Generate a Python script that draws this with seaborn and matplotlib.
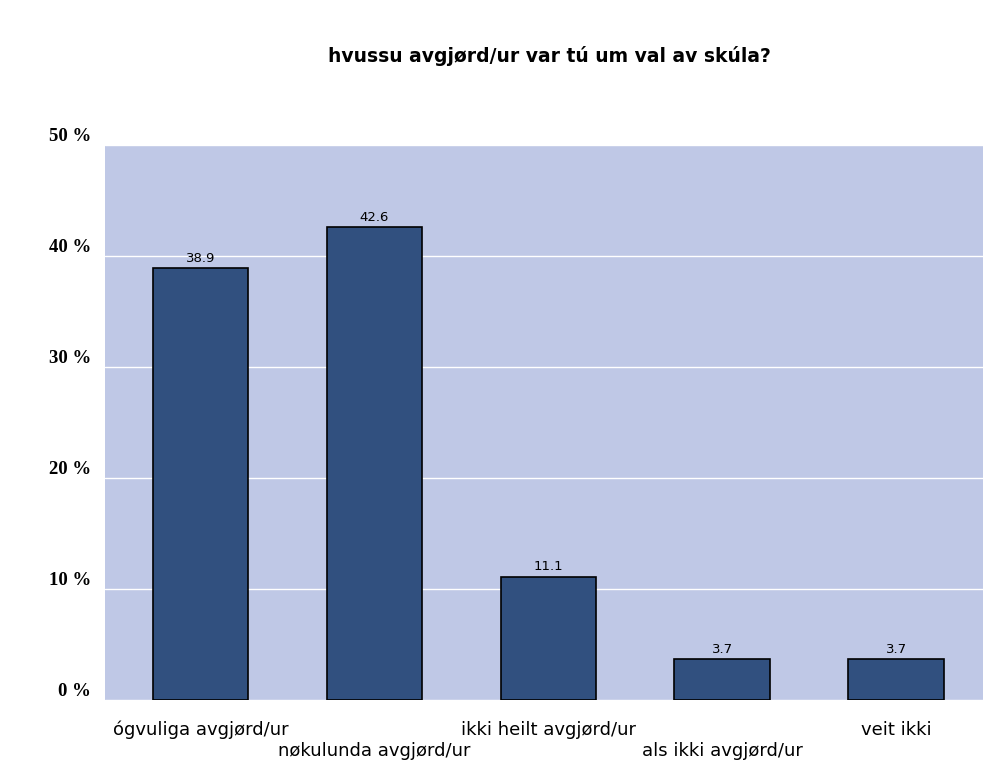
import pandas as pd
import matplotlib.pyplot as plt
import seaborn as sns

categories = ["ógvuliga avgjørd/ur", "nøkulunda avgjørd/ur", "ikki heilt avgjørd/ur",
              "als ikki avgjørd/ur", "veit ikki"]
values = [38.9, 42.6, 11.1, 3.7, 3.7]
yticks = [0, 10, 20, 30, 40, 50]

df = pd.DataFrame({"svar": categories, "pct": values})

sns.set_theme(style="white")
plt.rcParams["font.family"] = ["DejaVu Sans"]
plt.rcParams["text.color"] = "black"
plt.rcParams["xtick.color"] = "black"
plt.rcParams["ytick.color"] = "black"

fig = plt.figure(figsize=(9.83, 7.69), dpi=100)
ax = fig.add_axes([0.1068, 0.0897, 0.8932, 0.7217])
ax.set_facecolor("#bfc8e6")

sns.barplot(data=df, x="svar", y="pct", color="#31507f", saturation=1, width=0.55,
            edgecolor="black", linewidth=1.2, ax=ax, zorder=3)

for i, v in enumerate(values):
    ax.text(i, v + 0.3, f"{v:.1f}", ha="center", va="bottom", fontsize=9.5, zorder=4)

ax.set_ylim(0, 50)
ax.set_xlim(-0.55, 4.5)
ax.set_yticks(yticks)
ax.set_yticklabels([f"{t} %" for t in yticks], fontsize=13.5, fontweight="bold",
                   family="Liberation Serif", va="bottom")
ax.yaxis.grid(True, color="white", linewidth=1)
ax.set_axisbelow(True)
ax.tick_params(axis="y", length=0, pad=10)
ax.tick_params(axis="x", length=0, pad=15)

labels = [c if i % 2 == 0 else "\n" + c for i, c in enumerate(categories)]
ax.set_xticks(range(len(categories)))
ax.set_xticklabels(labels, fontsize=13, va="top", linespacing=1.25)

for s in ax.spines.values():
    s.set_visible(False)

ax.set_xlabel("")
ax.set_ylabel("")
fig.text(0.559, 0.92, "hvussu avgjørd/ur var tú um val av skúla?", ha="center",
         fontsize=13.5, fontweight="bold")

fig.savefig("out.png", dpi=100)
